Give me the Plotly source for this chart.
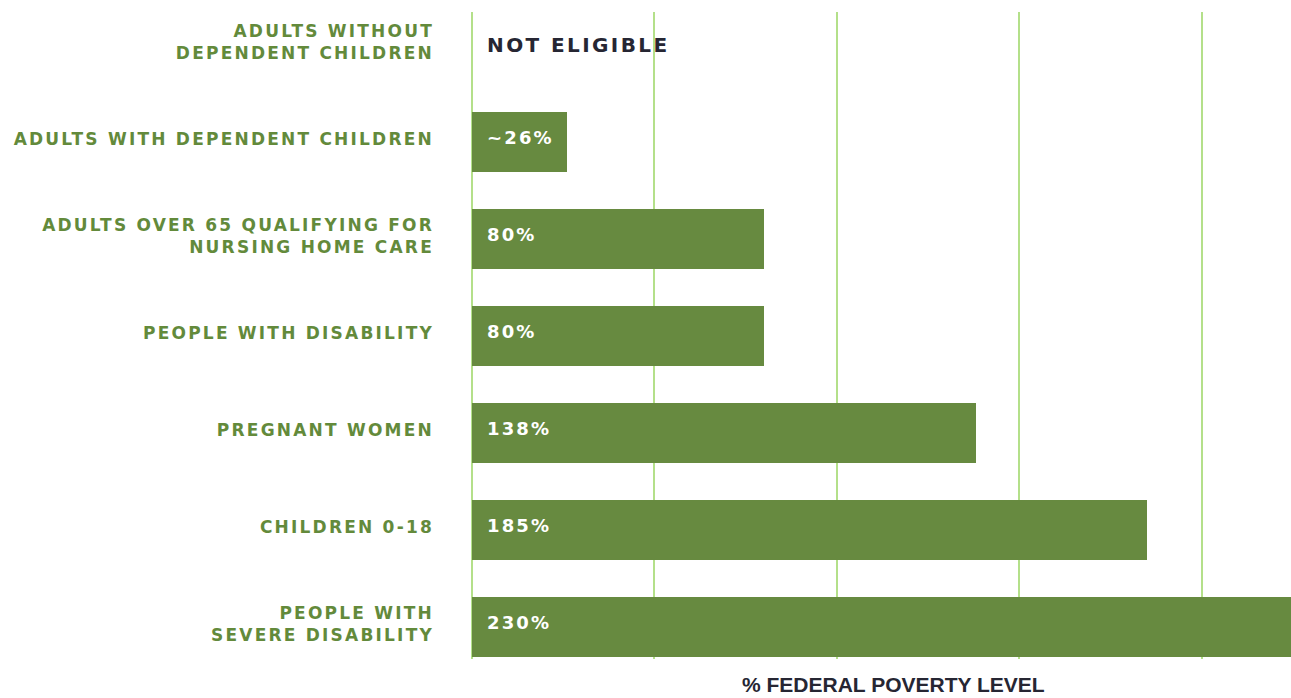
import plotly.graph_objects as go

# Medicaid income eligibility by group, as % of the federal poverty level
groups = [
    "ADULTS WITHOUT<br>DEPENDENT CHILDREN",
    "ADULTS WITH DEPENDENT CHILDREN",
    "ADULTS OVER 65 QUALIFYING FOR<br>NURSING HOME CARE",
    "PEOPLE WITH DISABILITY",
    "PREGNANT WOMEN",
    "CHILDREN 0-18",
    "PEOPLE WITH<br>SEVERE DISABILITY",
]
fpl_limit = [None, 26, 80, 80, 138, 185, 230]
is_approx = [False, True, False, False, False, False, False]
not_eligible_text = "NOT ELIGIBLE"
x_title = "% FEDERAL POVERTY LEVEL"

BAR = "#678a40"
LABEL = "#638a3b"
GRID = "#b4e08a"
DARK = "#262633"

fig = go.Figure(
    go.Bar(
        x=fpl_limit,
        y=groups,
        orientation="h",
        width=0.62,
        marker=dict(color=BAR, line=dict(width=0)),
        hoverinfo="skip",
    )
)

# value labels at the left end of each bar
for g, v, approx in zip(groups, fpl_limit, is_approx):
    if v is None:
        txt, size, col, dy = not_eligible_text, 20, DARK, 0
    else:
        txt = ("~" if approx else "") + f"{v}%"
        size, col, dy = 18, "white", 4
    fig.add_annotation(
        x=0, y=g, xref="x", yref="y",
        text=txt, showarrow=False,
        xanchor="left", align="left", xshift=13, yshift=dy,
        font=dict(family="DejaVu Sans", size=size, color=col, weight="bold"),
    )

# axis caption under the plot
fig.add_annotation(
    x=0.515, y=0, xref="paper", yref="paper",
    text=x_title, showarrow=False,
    xanchor="center", yanchor="top", yshift=-12,
    font=dict(family="Liberation Sans", size=21, color=DARK, weight="bold"),
)

fig.update_layout(
    width=1291, height=698,
    margin=dict(l=472, r=0, t=12, b=39),
    paper_bgcolor="white", plot_bgcolor="white",
    showlegend=False,
    bargap=0,
)
fig.update_xaxes(
    range=[0, 224.4],
    tickvals=[0, 50, 100, 150, 200],
    showticklabels=False,
    showgrid=True, gridcolor=GRID, gridwidth=1.5,
    zeroline=True, zerolinecolor=GRID, zerolinewidth=1.5,
    showline=False, ticks="",
    fixedrange=True,
)
fig.update_yaxes(
    type="category",
    categoryorder="array", categoryarray=groups,
    range=[6.33, -0.34],
    showgrid=False, zeroline=False, showline=False, ticks="",
    ticklabelstandoff=37,
    ticklabelshift=3,
    tickfont=dict(family="DejaVu Sans", size=17, color=LABEL, weight="bold"),
    fixedrange=True,
)

# wide tracking on the category and value labels (DejaVu-set text only)
spacing_css = (
    "var s=document.createElement('style');"
    "s.textContent='.ytick text{letter-spacing:0.13em}"
    ".annotation-text[style*=\"DejaVu\"]{letter-spacing:0.12em}';"
    "document.head.appendChild(s);"
)

fig.write_html("out.html", config={"displayModeBar": False}, post_script=spacing_css)
